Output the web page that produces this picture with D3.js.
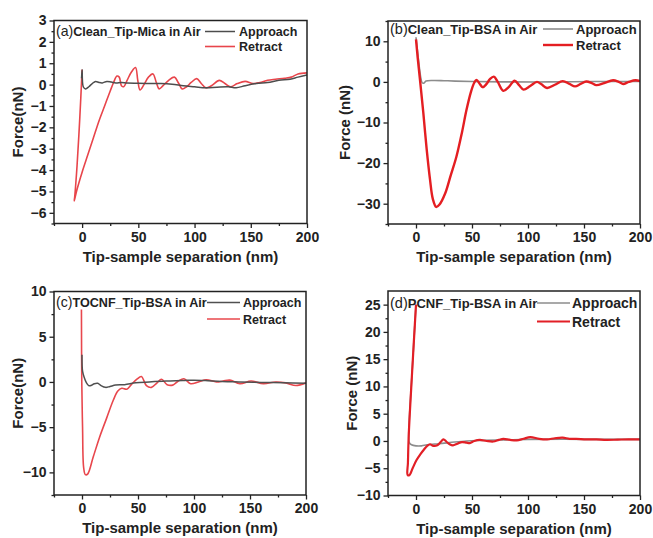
<!DOCTYPE html>
<html>
<head>
<meta charset="utf-8">
<script src="https://cdn.jsdelivr.net/npm/d3@7"></script>
<style>
  body { margin: 0; background: #fff; }
  svg { display: block; font-family: "Liberation Sans", Arial, sans-serif; }
</style>
</head>
<body>
<svg id="chart" width="653" height="538"></svg>
<script>
// x ticks shared by all panels
const xDomain = [-25, 200];
const xTicks = [0, 50, 100, 150, 200];
const xMinorTicks = [-25, 25, 75, 125, 175];

// (a) Clean tip - mica
const aApproach = [[-0.5, 0.3], [0, 0.7], [1, -0.1], [3, -0.2], [6, -0.1], [9, 0.05], [12, 0.15], [15, 0.1], [18, 0.08],
  [22, 0.15], [26, 0.12], [30, 0.08], [35, 0.1], [40, 0.07], [50, 0.06], [60, 0.05], [70, 0.05], [80, 0.02], [90, -0.05],
  [100, -0.1], [110, -0.15], [120, -0.12], [130, -0.1], [137, -0.15], [145, -0.05], [155, 0.05], [165, 0.1], [175, 0.2],
  [185, 0.25], [192, 0.35], [200, 0.45]];
const aRetract = [[0, 0.7], [-2, -1.5], [-4.5, -3.8], [-6.5, -5.2], [-7, -5.45], [-5, -5.0], [0, -4.1], [5, -3.3], [10, -2.5],
  [15, -1.7], [20, -1.0], [25, -0.3], [28, 0.1], [31, 0.4], [33, 0.35], [35, -0.05], [37, -0.1], [40, 0.2], [44, 0.6],
  [47.5, 0.8], [49.5, 0.2], [51.5, -0.25], [55, 0], [59, 0.35], [63, 0.5], [66, 0.1], [68.5, -0.2], [72, -0.05], [77, 0.2],
  [82, 0.35], [86, 0.05], [89, -0.2], [93, -0.1], [97, 0.1], [102, 0.28], [106, 0.05], [110, -0.15], [115, -0.05],
  [122, 0.2], [127, 0.05], [132, -0.1], [138, 0.05], [145, 0.15], [152, 0.05], [158, 0.1], [165, 0.2], [172, 0.25],
  [180, 0.3], [186, 0.35], [192, 0.5], [200, 0.55]];
const aYDomain = [-6.5, 3];
const aYTicks = [-6, -5, -4, -3, -2, -1, 0, 1, 2, 3];
const aYMinor = [-6.5, -5.5, -4.5, -3.5, -2.5, -1.5, -0.5, 0.5, 1.5, 2.5];

// (b) Clean tip - BSA
const bApproach = [[0, 11], [2, 6], [4, 1.5], [5.5, -0.2], [7, -0.3], [9, 0.2], [15, 0.35], [25, 0.3], [35, 0.2],
  [50, 0.1], [80, 0], [120, 0], [160, 0.1], [200, 0.1]];
const bRetract = [[0, 10.5], [1.5, 6], [3, 2], [4.5, -2], [6.5, -7.5], [9.5, -16.5], [12.5, -24], [15, -28.8], [18, -30.8],
  [21, -30.2], [26, -27.5], [31, -23], [36, -18.5], [41, -12.5], [45, -7], [49, -2.5], [52, -0.2], [54, 0.5], [57, -0.5],
  [59.5, -1.3], [63, -0.5], [66, 0.7], [69.5, 1.3], [73, 0], [78, -2.2], [83, -1.2], [88, 0.3], [92, -0.8], [96, -1.9],
  [102, -1], [108, 0], [112, -0.6], [117, -1.5], [124, -0.7], [131, 0.2], [137, -0.5], [142, -1.1], [147, -0.5],
  [152, 0.1], [157, -0.3], [161, -0.8], [168, -0.3], [176, 0.4], [181, 0], [185, -0.5], [190, 0], [196, 0.4], [200, 0.2]];
const bYDomain = [-35, 15];
const bYTicks = [-30, -20, -10, 0, 10];
const bYMinor = [-35, -25, -15, -5, 5, 15];

// (c) TOCNF tip - BSA
const cApproach = [[0, 3], [0.5, 1.2], [2, 0.5], [4, -0.1], [6, -0.4], [8, -0.4], [11, -0.2], [14, -0.15], [17, -0.4],
  [21, -0.6], [25, -0.5], [30, -0.35], [38, -0.3], [48, -0.1], [60, 0], [75, 0.1], [90, 0.15], [100, 0.2], [110, 0.15],
  [125, 0.05], [140, 0], [160, -0.05], [180, -0.1], [200, -0.15]];
const cRetract = [[-0.5, 8], [-0.2, 0], [0.5, -5], [1.5, -9.5], [3, -10.25], [5, -10.2], [10, -8.3], [16, -6.0], [22, -4],
  [28, -2], [32, -1], [35.5, -0.7], [40, -0.8], [44, -0.3], [49, 0.3], [53, 0.6], [57.5, -0.4], [62, -0.6], [67, -0.1],
  [71, 0.3], [76, -0.3], [81, -0.35], [86, 0.1], [91, 0.35], [97, -0.2], [104, 0], [111, 0.25], [120, 0], [126, 0.1],
  [132, 0.2], [141, -0.2], [151, 0.1], [162, -0.2], [173, 0], [182, -0.1], [191, -0.4], [200, -0.1]];
const cYDomain = [-12.5, 10];
const cYTicks = [-10, -5, 0, 5, 10];
const cYMinor = [-12.5, -7.5, -2.5, 2.5, 7.5];

// (d) PCNF tip - BSA
const dApproach = [[0, 25], [-3.5, 12.5], [-6.5, 1], [-6, -0.3], [-4, -0.7], [0, -0.9], [5, -0.9], [10, -0.7], [20, -0.5],
  [30, -0.3], [45, 0], [60, 0.1], [80, 0.2], [100, 0.3], [150, 0.3], [200, 0.3]];
const dRetract = [[0, 25], [-3.5, 12.5], [-6.5, 1], [-7.2, -4], [-7.5, -6.2], [-6, -6.3], [-3, -5], [0.5, -3.5], [4, -2.4],
  [7, -1.6], [10, -0.9], [12.5, -0.6], [15.5, -0.9], [19, -0.8], [22, -0.2], [24.5, 0.3], [27, -0.1], [30, -0.6],
  [33, -0.8], [37, -0.5], [41, -0.2], [45, -0.3], [48, -0.4], [52, 0], [57, 0.2], [63, 0], [69, -0.1], [74, 0.2],
  [78, 0.4], [84, 0.2], [90, 0.1], [96, 0.4], [102, 0.7], [110, 0.4], [117, 0.3], [124, 0.5], [131, 0.6], [137, 0.4],
  [143, 0.4], [152, 0.3], [161, 0.3], [170, 0.2], [180, 0.25], [190, 0.3], [200, 0.3]];
const dYDomain = [-10, 27.5];
const dYTicks = [-10, -5, 0, 5, 10, 15, 20, 25];
const dYMinor = [-7.5, -2.5, 2.5, 7.5, 12.5, 17.5, 22.5];

const titles = ['(a)Clean_Tip-Mica in Air', '(b)Clean_Tip-BSA in Air', '(c)TOCNF_Tip-BSA in Air', '(d)PCNF_Tip-BSA in Air'];
const yLabels = ['Force(nN)', 'Force (nN)', 'Force(nN)', 'Force (nN)'];
const seriesNames = ['Approach', 'Retract'];

const panels = [
  { approach: aApproach, retract: aRetract, yDomain: aYDomain, yTicks: aYTicks, yMinor: aYMinor,
    left: 54, top: 20.5, w: 253, h: 203, ylabX: 18, gray: '#4d4d4d', red: '#e8454b', redW: 1.6, grayW: 1.5,
    redFirst: true, titleFs: 12.6, leg: { x0: 205, x1: 235, tx: 239, y1: 31.5, y2: 46.5, fs: 12.5 } },
  { approach: bApproach, retract: bRetract, yDomain: bYDomain, yTicks: bYTicks, yMinor: bYMinor,
    left: 388, top: 21, w: 252, h: 203, ylabX: 345, gray: '#8c8c8c', red: '#e41e22', redW: 2.4, grayW: 1.6,
    redFirst: false, titleFs: 13, leg: { x0: 543, x1: 573, tx: 576, y1: 29, y2: 45, fs: 13 } },
  { approach: cApproach, retract: cRetract, yDomain: cYDomain, yTicks: cYTicks, yMinor: cYMinor,
    left: 54, top: 291.5, w: 252, h: 203.5, ylabX: 18, gray: '#505050', red: '#e8474d', redW: 1.6, grayW: 1.5,
    redFirst: true, titleFs: 12.6, leg: { x0: 207, x1: 240, tx: 243, y1: 302.5, y2: 319, fs: 12.5 } },
  { approach: dApproach, retract: dRetract, yDomain: dYDomain, yTicks: dYTicks, yMinor: dYMinor,
    left: 388, top: 291, w: 252, h: 204.5, ylabX: 352, gray: '#8c8c8c', red: '#e21f26', redW: 2.2, grayW: 1.6,
    redFirst: false, titleFs: 13, leg: { x0: 537, x1: 570, tx: 572, y1: 303, y2: 321.5, fs: 14 } },
];

const svg = d3.select('#chart');

panels.forEach((p, i) => {
  const x = d3.scaleLinear().domain(xDomain).range([p.left, p.left + p.w]);
  const y = d3.scaleLinear().domain(p.yDomain).range([p.top + p.h, p.top]);
  const g = svg.append('g');

  const line = d3.line()
    .x((d) => x(d[0]))
    .y((d) => y(d[1]))
    .curve(d3.curveCatmullRom.alpha(0.5));

  const clipId = 'clip' + i;
  g.append('clipPath').attr('id', clipId)
    .append('rect').attr('x', p.left).attr('y', p.top).attr('width', p.w).attr('height', p.h);

  const lines = g.append('g').attr('clip-path', `url(#${clipId})`);
  const drawGray = () => lines.append('path').datum(p.approach)
    .attr('fill', 'none').attr('stroke', p.gray).attr('stroke-width', p.grayW).attr('d', line);
  const drawRed = () => lines.append('path').datum(p.retract)
    .attr('fill', 'none').attr('stroke', p.red).attr('stroke-width', p.redW).attr('d', line);
  if (p.redFirst) { drawRed(); drawGray(); } else { drawGray(); drawRed(); }

  // minor ticks
  const yMinorAxis = g.append('g').attr('transform', `translate(${p.left},0)`)
    .call(d3.axisLeft(y).tickValues(p.yMinor).tickSize(2.5).tickFormat(''));
  const xMinorAxis = g.append('g').attr('transform', `translate(0,${p.top + p.h})`)
    .call(d3.axisBottom(x).tickValues(xMinorTicks).tickSize(2.5).tickFormat(''));

  // major ticks
  const yAxis = g.append('g').attr('transform', `translate(${p.left},0)`)
    .call(d3.axisLeft(y).tickValues(p.yTicks).tickSize(4.5).tickPadding(3).tickFormat(d3.format('')));
  const xAxis = g.append('g').attr('transform', `translate(0,${p.top + p.h})`)
    .call(d3.axisBottom(x).tickValues(xTicks).tickSize(4.5).tickPadding(4));

  [yMinorAxis, xMinorAxis, yAxis, xAxis].forEach((a) => {
    a.select('.domain').remove();
    a.selectAll('line').attr('stroke', '#222').attr('stroke-width', 1.3);
  });
  [yAxis, xAxis].forEach((a) => {
    a.selectAll('text').attr('fill', '#222').style('font-size', '14px').style('font-weight', 'bold');
  });

  // frame
  g.append('rect')
    .attr('x', p.left).attr('y', p.top).attr('width', p.w).attr('height', p.h)
    .attr('fill', 'none').attr('stroke', '#222').attr('stroke-width', 1.5);

  // axis titles
  g.append('text')
    .attr('x', p.left + p.w / 2).attr('y', p.top + p.h + 38)
    .attr('text-anchor', 'middle').attr('fill', '#222')
    .style('font-size', '15px').style('font-weight', 'bold')
    .text('Tip-sample separation (nm)');
  g.append('text')
    .attr('transform', `translate(${p.ylabX},${p.top + p.h / 2}) rotate(-90)`)
    .attr('text-anchor', 'middle').attr('dy', '0.35em').attr('fill', '#222')
    .style('font-size', '15px').style('font-weight', 'bold')
    .text(yLabels[i]);

  // panel title: "(a)" in regular weight, the rest bold
  const [, tag, rest] = titles[i].match(/^(\([a-d]\))(.*)$/);
  const title = g.append('text')
    .attr('x', p.left + 2).attr('y', p.leg.y1 + 4.5)
    .attr('fill', '#222').style('font-size', p.titleFs + 'px');
  title.append('tspan').style('font-size', (p.titleFs + 1.5) + 'px').text(tag);
  title.append('tspan').style('font-weight', 'bold').text(rest);

  // legend
  const leg = [
    { name: seriesNames[0], y: p.leg.y1, color: p.gray, w: p.grayW },
    { name: seriesNames[1], y: p.leg.y2, color: p.red, w: p.redW },
  ];
  leg.forEach((l) => {
    g.append('line')
      .attr('x1', p.leg.x0).attr('x2', p.leg.x1).attr('y1', l.y).attr('y2', l.y)
      .attr('stroke', l.color).attr('stroke-width', l.w);
    g.append('text')
      .attr('x', p.leg.tx).attr('y', l.y).attr('dy', '0.36em')
      .attr('fill', '#222').style('font-size', p.leg.fs + 'px').style('font-weight', 'bold')
      .text(l.name);
  });
});
</script>
</body>
</html>
